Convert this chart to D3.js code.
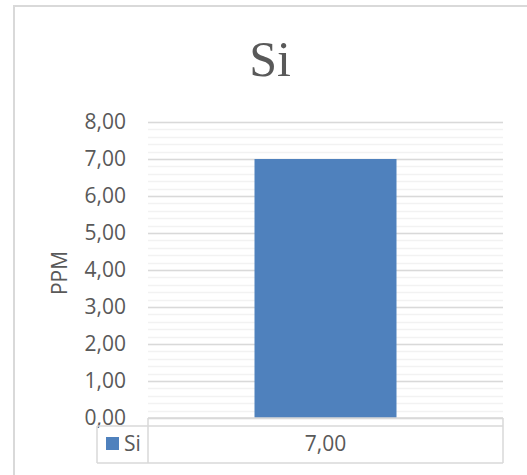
<!DOCTYPE html>
<html><head><meta charset="utf-8">
<script src="https://cdn.jsdelivr.net/npm/d3@7"></script>
<style>body{margin:0;background:#fff}svg{display:block}</style>
</head><body>
<script>
const categories = [""];
const seriesName = "Si";
const values = [7.00];
const yTicks = [0,1,2,3,4,5,6,7,8];
const title = "Si";
const yLabel = "PPM";

(function(){
const W = 527, H = 475;
const fmt = v => d3.format(".2f")(v).replace(".", ",");
const svg = d3.select("body").append("svg").attr("width", W).attr("height", H);
const grey = "#595959";
svg.append("path").attr("d", `M14,${H} L14,6 L${W},6`).attr("fill","none").attr("stroke","#d9d9d9").attr("stroke-width",2);

const pl = 148, pr = 503, pt = 122, pb = 418;
const y = d3.scaleLinear().domain([0, 8]).range([pb, pt]);
const x = d3.scaleBand().domain(categories).range([pl, pr]).paddingInner(0.6).paddingOuter(0.3);

const minor = d3.range(0, 8.0001, 0.2);
svg.append("g").selectAll("line").data(minor).join("line")
  .attr("x1", pl).attr("x2", pr)
  .attr("y1", d => Math.round(y(d)) + 0.5).attr("y2", d => Math.round(y(d)) + 0.5)
  .attr("stroke", "#f2f2f2").attr("stroke-width", 1.5);
svg.append("g").selectAll("line").data(yTicks).join("line")
  .attr("x1", pl).attr("x2", pr)
  .attr("y1", d => Math.round(y(d)) + 0.5).attr("y2", d => Math.round(y(d)) + 0.5)
  .attr("stroke", "#d9d9d9").attr("stroke-width", 1.5);

const yAxis = d3.axisLeft(y).tickValues(yTicks).tickFormat(fmt).tickSize(0).tickPadding(22);
const ya = svg.append("g").attr("transform", `translate(${pl},0)`).call(yAxis);
ya.select(".domain").remove();
ya.selectAll("text").attr("font-family", "Open Sans, sans-serif").attr("font-size", 21).attr("fill", grey);

svg.append("g").selectAll("rect").data(values).join("rect")
  .attr("x", (d, i) => x(categories[i])).attr("width", x.bandwidth())
  .attr("y", d => y(d)).attr("height", d => y(0) - y(d))
  .attr("fill", "#4f81bd");

svg.append("text").attr("x", 270).attr("y", 76).attr("text-anchor", "middle")
  .attr("font-family", "Liberation Serif, serif").attr("font-size", 50).attr("fill", grey).text(title);

svg.append("text").attr("transform", `translate(67,273) rotate(-90)`).attr("text-anchor", "middle")
  .attr("font-family", "Open Sans, sans-serif").attr("font-size", 21).attr("fill", grey).text(yLabel);

const t = svg.append("g").attr("fill", "none").attr("stroke", "#d9d9d9").attr("stroke-width", 1.5);
const r1 = pb, r2 = 426, r3 = 463, lx = 97;
t.append("line").attr("x1", pl).attr("x2", pr).attr("y1", r1).attr("y2", r1);
t.append("line").attr("x1", lx).attr("x2", pr).attr("y1", r2).attr("y2", r2);
t.append("line").attr("x1", lx).attr("x2", pr).attr("y1", r3).attr("y2", r3);
t.append("line").attr("x1", lx).attr("x2", lx).attr("y1", r2).attr("y2", r3);
t.append("line").attr("x1", pl).attr("x2", pl).attr("y1", r1).attr("y2", r3);
t.append("line").attr("x1", pr).attr("x2", pr).attr("y1", r1).attr("y2", r3);

svg.append("rect").attr("x", 106).attr("y", 437).attr("width", 13).attr("height", 13).attr("fill", "#4f81bd");
svg.append("text").attr("x", 124).attr("y", 451).attr("font-family", "Open Sans, sans-serif")
  .attr("font-size", 21).attr("fill", grey).text(seriesName);
svg.append("g").selectAll("text").data(values).join("text")
  .attr("x", (d, i) => x(categories[i]) + x.bandwidth() / 2).attr("y", 451).attr("text-anchor", "middle")
  .attr("font-family", "Open Sans, sans-serif").attr("font-size", 21).attr("fill", grey).text(d => fmt(d));
})();
</script>
</body></html>
